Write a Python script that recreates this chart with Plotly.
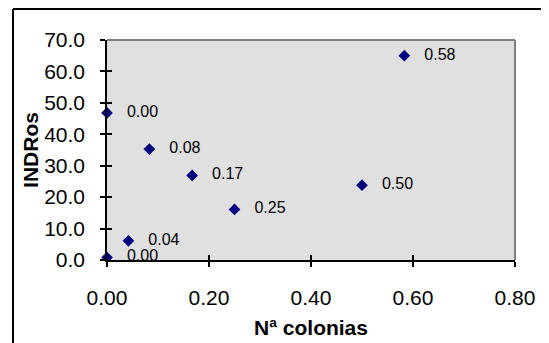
import plotly.graph_objects as go

# Data
x_vals = [0.0, 0.0, 0.042, 0.083, 0.167, 0.25, 0.5, 0.583]
y_vals = [46.8, 0.8, 6.1, 35.3, 26.9, 16.1, 23.8, 65.0]
point_labels = ["0.00", "0.00", "0.04", "0.08", "0.17", "0.25", "0.50", "0.58"]
x_ticks = [0.0, 0.2, 0.4, 0.6, 0.8]
x_ticktext = ["0.00", "0.20", "0.40", "0.60", "0.80"]
y_ticks = [0, 10, 20, 30, 40, 50, 60, 70]
y_ticktext = ["0.0", "10.0", "20.0", "30.0", "40.0", "50.0", "60.0", "70.0"]

FONT = "Liberation Sans, Arial, sans-serif"

fig = go.Figure()
fig.add_trace(go.Scatter(
    x=x_vals, y=y_vals, mode="markers+text",
    text=["   " + t for t in point_labels], textposition="middle right",
    textfont=dict(family=FONT, size=16, color="black"),
    marker=dict(symbol="diamond", size=9, color="#000080"),
    cliponaxis=False, showlegend=False,
))
# invisible trace on overlay axes for inside half of crossing ticks
fig.add_trace(go.Scatter(x=[x_vals[0]], y=[y_vals[0]], xaxis="x2", yaxis="y2",
                         mode="markers", marker=dict(opacity=0), showlegend=False,
                         hoverinfo="skip"))

fig.update_layout(
    width=541, height=335,
    margin=dict(l=99, r=34, t=32, b=83),
    paper_bgcolor="white", plot_bgcolor="#e0e0e0",
    font=dict(family=FONT, color="black"),
    xaxis=dict(range=[0, 0.8], tickvals=x_ticks, ticktext=x_ticktext, automargin=False,
               showgrid=False, zeroline=False, showline=True, linecolor="black",
               linewidth=1.5, ticks="outside", ticklen=5, tickcolor="black",
               tickwidth=1.5, tickfont=dict(size=21), ticklabelstandoff=13,
               title=dict(text="<b>Nª colonias</b>", font=dict(size=21), standoff=12)),
    yaxis=dict(range=[0, 70], tickvals=y_ticks, ticktext=y_ticktext, automargin=False,
               showgrid=False, zeroline=False, showline=True, linecolor="black",
               linewidth=1.5, ticks="outside", ticklen=5, tickcolor="black",
               tickwidth=1.5, tickfont=dict(size=21), ticklabelstandoff=11,
               title=dict(text="<b>INDRos</b>", font=dict(size=21), standoff=0)),
    xaxis2=dict(range=[0, 0.8], tickvals=x_ticks, showticklabels=False,
                overlaying="x", side="bottom", showgrid=False, zeroline=False,
                ticks="inside", ticklen=5, tickcolor="black", tickwidth=1.5,
                showline=False, automargin=False),
    yaxis2=dict(range=[0, 70], tickvals=y_ticks, showticklabels=False,
                overlaying="y", side="left", showgrid=False, zeroline=False,
                ticks="inside", ticklen=5, tickcolor="black", tickwidth=1.5,
                showline=False, automargin=False),
    shapes=[
        # plot area grey border (top & right)
        dict(type="line", xref="paper", yref="paper", x0=0, x1=1, y0=1, y1=1,
             line=dict(color="#808080", width=2)),
        dict(type="line", xref="paper", yref="paper", x0=1, x1=1, y0=0, y1=1,
             line=dict(color="#808080", width=2)),
        # outer chart frame (left & top visible)
        dict(type="line", xref="paper", yref="paper", x0=-0.2304, x1=-0.2304,
             y0=-0.5, y1=1.1409, line=dict(color="black", width=2)),
        dict(type="line", xref="paper", yref="paper", x0=-0.2304, x1=1.2,
             y0=1.1409, y1=1.1409, line=dict(color="black", width=2)),
    ],
)

fig.write_html("out.html", config={"displayModeBar": False})
